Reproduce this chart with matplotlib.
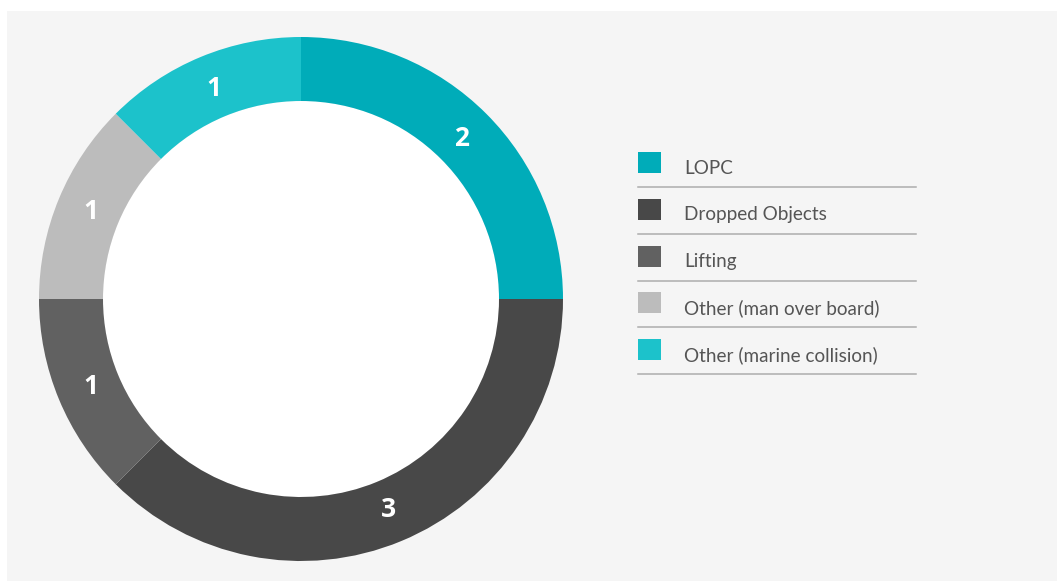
import numpy as np
import matplotlib.pyplot as plt
from matplotlib.patches import Rectangle, Circle

categories = ["LOPC", "Dropped Objects", "Lifting",
              "Other (man over board)", "Other (marine collision)"]
counts = [2, 3, 1, 1, 1]
colours = ["#00acb9", "#484848", "#616161", "#bcbcbc", "#1cc2cb"]

W, H = 1057, 581
fig = plt.figure(figsize=(W / 100, H / 100), dpi=100)
fig.patch.set_facecolor("white")

# full-figure axes in pixel units for the panel and the legend
bg = fig.add_axes([0, 0, 1, 1])
bg.set_xlim(0, W)
bg.set_ylim(H, 0)
bg.axis("off")
bg.add_patch(Rectangle((7, 11), W - 7, H - 11, facecolor="#f5f5f5", edgecolor="none"))

# donut
cx, cy, r = 301, 299, 262
ax = fig.add_axes([(cx - r) / W, (H - cy - r) / H, 2 * r / W, 2 * r / H])
ax.set_facecolor("none")
ring = 64 / r
wedges, texts = ax.pie(counts, colors=colours, startangle=90, counterclock=False,
                       radius=1, wedgeprops=dict(width=ring, edgecolor="none"),
                       labels=[str(c) for c in counts], labeldistance=1 - ring / 2 - 0.01,
                       textprops=dict(color="white", fontsize=19, fontweight="bold",
                                      family="Open Sans", ha="center", va="center"))
ax.add_patch(Circle((0, 0), 1 - ring, facecolor="white", edgecolor="none", zorder=0))
ax.set_xlim(-1, 1)
ax.set_ylim(-1, 1)
ax.set_aspect("equal")
ax.axis("off")

# legend rows
x0, x1 = 638, 916
y_top = 152
step = 46.8
for i, (name, col) in enumerate(zip(categories, colours)):
    y = y_top + i * step
    bg.add_patch(Rectangle((x0, y), 23, 21, facecolor=col, edgecolor="none"))
    bg.text(684, y + 16, name, fontsize=13.6, family="Lato", color="#555555",
            ha="left", va="center")
    bg.plot([x0, x1], [y + 35, y + 35], color="#adadad", lw=1.1)

fig.savefig("out.png", dpi=100, facecolor=fig.get_facecolor())
